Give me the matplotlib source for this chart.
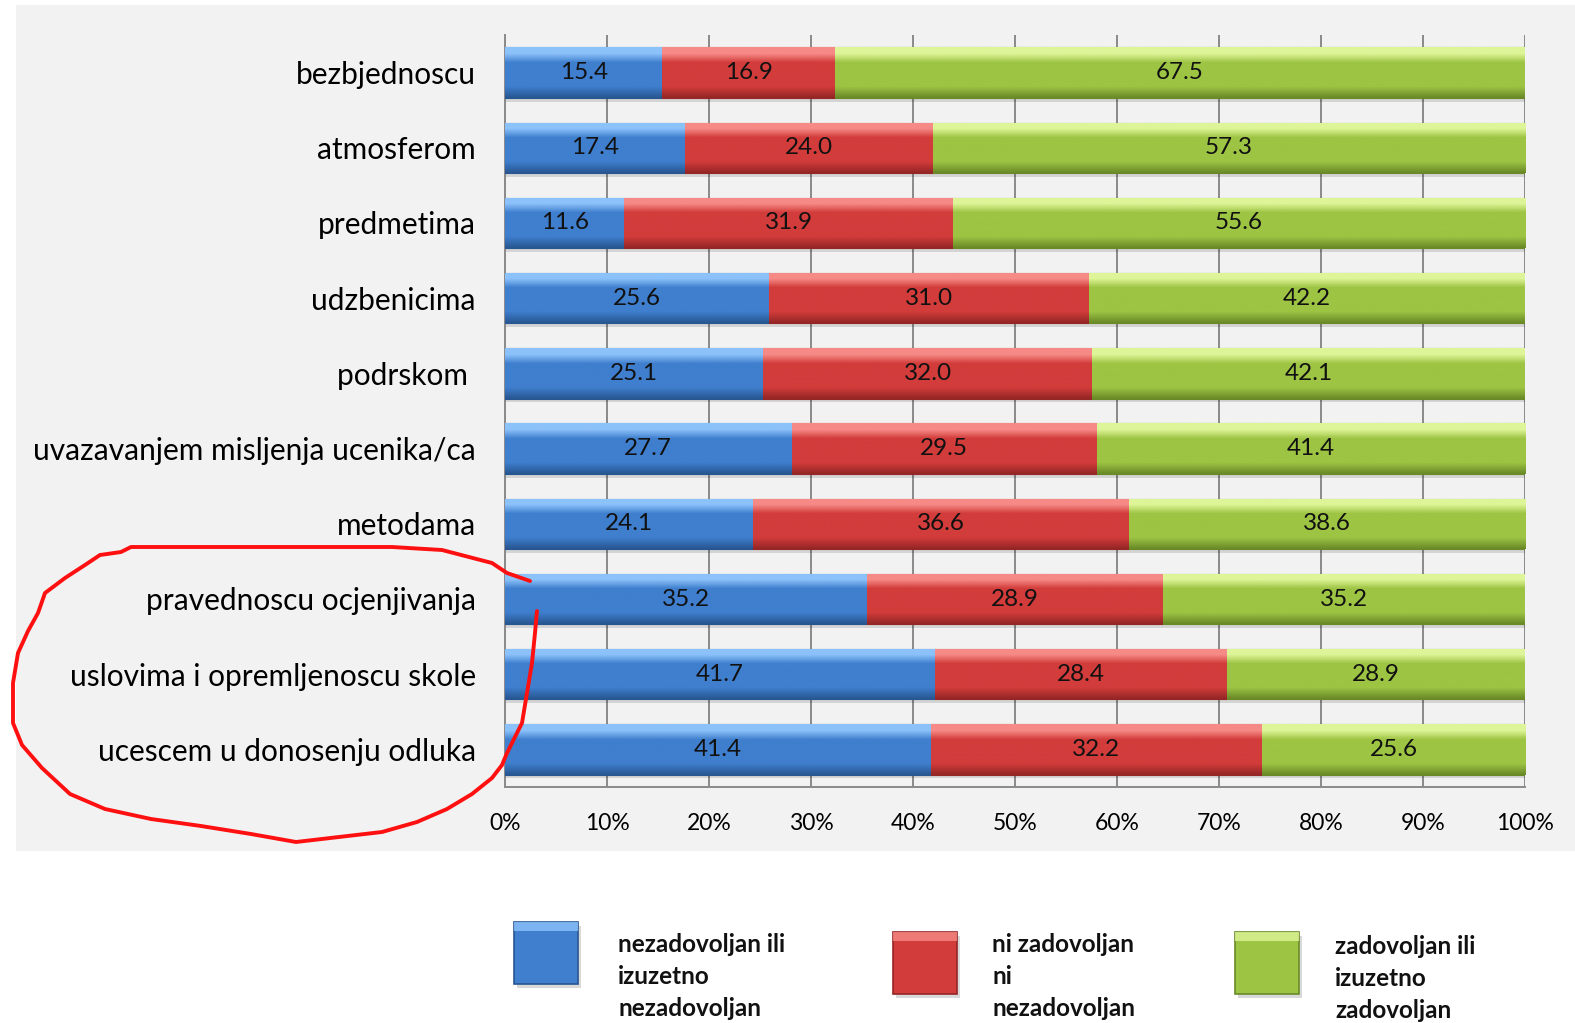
import numpy as np
import matplotlib.pyplot as plt
import matplotlib.colors as mcolors
from matplotlib.patches import Rectangle
from matplotlib.lines import Line2D

categories = ['bezbjednoscu', 'atmosferom', 'predmetima', 'udzbenicima', 'podrskom ',
              'uvazavanjem misljenja ucenika/ca', 'metodama', 'pravednoscu ocjenjivanja',
              'uslovima i opremljenoscu skole', 'ucescem u donosenju odluka']
nezadovoljan = [15.4, 17.4, 11.6, 25.6, 25.1, 27.7, 24.1, 35.2, 41.7, 41.4]
neutralno = [16.9, 24.0, 31.9, 31.0, 32.0, 29.5, 36.6, 28.9, 28.4, 32.2]
zadovoljan = [67.5, 57.3, 55.6, 42.2, 42.1, 41.4, 38.6, 35.2, 28.9, 25.6]
series_names = ['nezadovoljan ili\nizuzetno\nnezadovoljan',
                'ni zadovoljan\nni\nnezadovoljan',
                'zadovoljan ili\nizuzetno\nzadovoljan']
xticks = np.arange(0, 101, 10)

# hand drawn red loop (pixel coords of the 1575x1023 image)
loop_x = [530, 507, 492, 442, 392, 131, 121, 100, 85, 65, 45, 38, 28, 18, 13, 13, 22, 42, 70, 105,
          151, 201, 251, 296, 382, 417, 447, 472, 492, 502, 507, 512, 522, 527, 532, 535, 537]
loop_y = [581, 573, 563, 550, 547, 547, 552, 555, 565, 578, 593, 613, 631, 653, 683, 723, 745, 768,
          794, 809, 819, 826, 834, 842, 832, 822, 809, 794, 778, 765, 753, 743, 723, 693, 663, 633, 611]

# (top highlight, mid, bottom) per series
shades = [('#8cc2fa', '#3f7fce', '#285691'),
          ('#f68a86', '#d23c3b', '#942625'),
          ('#def598', '#9dc443', '#6a8a28')]

plt.rcParams['font.family'] = ['Lato', 'DejaVu Sans']

W, H = 1575, 1023
fig = plt.figure(figsize=(W / 100, H / 100), dpi=100)
fig.patches.append(Rectangle((16 / W, 1 - 851 / H), 1, 846 / H, transform=fig.transFigure,
                             facecolor='#f2f2f2', edgecolor='none', zorder=-5))

ax = fig.add_axes([505 / W, 1 - 787 / H, 1020 / W, 752 / H])
ax.set_facecolor('none')

data = np.array([nezadovoljan, neutralno, zadovoljan])
pct = data / data.sum(axis=0) * 100
y = np.arange(len(categories))
h = 0.67


def gradient(top, mid, bot):
    stops = [(0.0, top), (0.12, top), (0.3, mid), (0.78, mid), (1.0, bot)]
    cm = mcolors.LinearSegmentedColormap.from_list('g', stops)
    return cm(np.linspace(0, 1, 64))[:, None, :]


left = np.zeros(len(categories))
for i in range(3):
    ax.barh(y + 0.05, pct[i], left=left, height=h, color='black', alpha=0.12, zorder=2)
    bars = ax.barh(y, pct[i], left=left, height=h, color=shades[i][1],
                   edgecolor=shades[i][2], linewidth=0.8, zorder=3)
    grad = gradient(*shades[i])
    for rect in bars.patches:
        x0, y0 = rect.get_x(), rect.get_y()
        im = ax.imshow(grad, extent=[x0, x0 + rect.get_width(), y0 + rect.get_height(), y0],
                       origin='upper', aspect='auto', zorder=4, interpolation='bilinear')
        im.set_clip_path(rect)
    ax.bar_label(bars, labels=[f'{v:.1f}' for v in data[i]], label_type='center',
                 fontsize=17.5, color='#111111', zorder=6)
    left += pct[i]

ax.set_xlim(0, 100)
ax.set_ylim(len(categories) - 0.5, -0.5)
ax.set_xticks(xticks)
ax.set_xticklabels([f'{t}%' for t in xticks])
ax.set_yticks(y)
ax.set_yticklabels(categories)
ax.tick_params(axis='x', length=0, pad=19, labelsize=16.5)
ax.tick_params(axis='y', length=0, pad=21, labelsize=21.5)
ax.xaxis.grid(True, color='#8a8a8a', linewidth=1.4)
ax.set_axisbelow(True)
for s in ['top', 'right']:
    ax.spines[s].set_visible(False)
for s in ['left', 'bottom']:
    ax.spines[s].set_color('#8a8a8a')
    ax.spines[s].set_linewidth(1.4)

# legend drawn by hand
leg_boxes = [(514, 922), (893, 932), (1235, 932)]
leg_text = [(618, 944), (992, 945), (1335, 947)]
for i in range(3):
    bx, by = leg_boxes[i]
    fig.patches.append(Rectangle(((bx + 3) / W, 1 - (by + 66) / H), 64 / W, 62 / H,
                                 transform=fig.transFigure, facecolor='black', alpha=0.15,
                                 edgecolor='none'))
    fig.patches.append(Rectangle((bx / W, 1 - (by + 62) / H), 64 / W, 62 / H,
                                 transform=fig.transFigure, facecolor=shades[i][1],
                                 edgecolor=shades[i][2], linewidth=1.2))
    fig.patches.append(Rectangle((bx / W, 1 - (by + 9) / H), 64 / W, 9 / H,
                                 transform=fig.transFigure, facecolor=shades[i][0],
                                 edgecolor='none', alpha=0.8))
    tx, ty = leg_text[i]
    for k, line in enumerate(series_names[i].split('\n')):
        fig.text(tx / W, 1 - (ty + 32 * k) / H, line, fontsize=17.5, fontweight='bold',
                 va='center', ha='left', color='#111111')

fig.add_artist(Line2D(np.array(loop_x) / W, 1 - np.array(loop_y) / H, transform=fig.transFigure,
                      color='#ff1010', linewidth=2.8, solid_capstyle='round', solid_joinstyle='round'))

fig.savefig('out.png', dpi=100)
